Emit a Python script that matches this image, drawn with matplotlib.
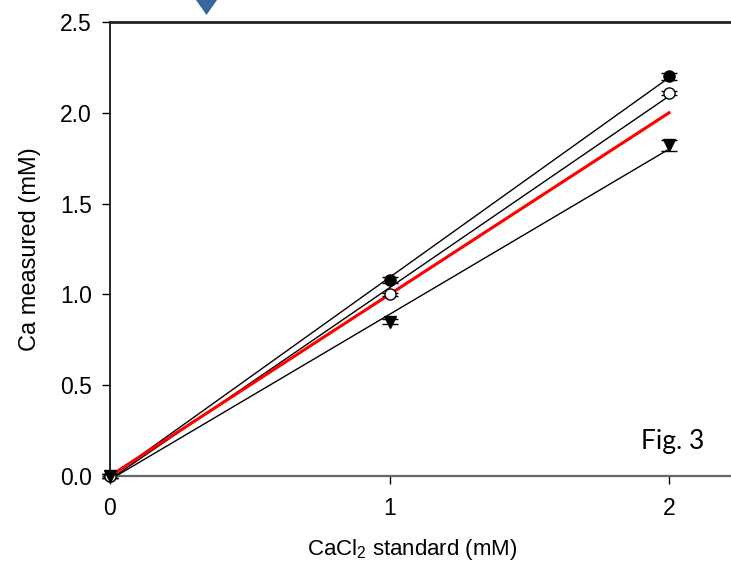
import numpy as np
import matplotlib
matplotlib.use("Agg")
import matplotlib.pyplot as plt
from matplotlib.patches import Polygon

plt.rcParams['font.family'] = ['Liberation Sans', 'DejaVu Sans']
plt.rcParams['mathtext.fontset'] = 'custom'
plt.rcParams['mathtext.rm'] = 'Liberation Sans'
plt.rcParams['mathtext.it'] = 'Liberation Sans'

# Data
x = [0, 1, 2]
filled_y = [0.0, 1.08, 2.20]
filled_err = [0.01, 0.015, 0.02]
open_y = [0.0, 1.00, 2.11]
open_err = [0.01, 0.01, 0.012]
tri_y = [0.0, 0.85, 1.82]
tri_err = [0.01, 0.012, 0.03]
ident_x = [0, 2]
ident_y = [0, 2]
xticks = [0, 1, 2]
yticks = [0.0, 0.5, 1.0, 1.5, 2.0, 2.5]

W, H = 731, 568
fig = plt.figure(figsize=(W/100, H/100), dpi=100)
x0_px, xunit = 110, 279.5
xmax = 2.4
left = x0_px / W
width = xmax * xunit / W
bottom = (H - 476) / H
height = (476 - 22) / H
ax = fig.add_axes([left, bottom, width, height])
ax.set_xlim(0, xmax)
ax.set_ylim(0, 2.5)

xs = np.array(x, dtype=float)
for ys in (filled_y, open_y, tri_y):
    k, b = np.polyfit(xs, ys, 1)
    ax.plot(xs, k * xs + b, color='black', lw=1.0, zorder=2)
ax.plot(ident_x, ident_y, color='#ff0000', lw=2.2, zorder=3)

ax.errorbar(x, filled_y, yerr=filled_err, fmt='o', color='black', ms=8,
            capsize=6, elinewidth=1, capthick=1, zorder=4, clip_on=False)
ax.errorbar(x, open_y, yerr=open_err, fmt='o', mfc='white', mec='black', ecolor='black',
            ms=8, mew=1, capsize=6, elinewidth=1, capthick=1, zorder=4, clip_on=False)
ax.errorbar(x, tri_y, yerr=tri_err, fmt='v', color='black', ms=9,
            capsize=6, elinewidth=1, capthick=1, zorder=4, clip_on=False)

ax.set_xticks(xticks)
ax.set_xticklabels([str(t) for t in xticks])
ax.set_yticks(yticks)
ax.set_yticklabels([f"{t:.1f}" for t in yticks])
ax.tick_params(direction='out', length=6, width=1, labelsize=16.5)
ax.tick_params(axis='y', pad=7)
ax.tick_params(axis='x', pad=9)

ax.spines['left'].set_color('black')
ax.spines['left'].set_linewidth(1.2)
ax.spines['top'].set_color('#222222')
ax.spines['top'].set_linewidth(2.0)
ax.spines['bottom'].set_color('#666666')
ax.spines['bottom'].set_linewidth(1.6)
ax.spines['right'].set_visible(False)

fig.text(30 / W, 1 - 249 / H, 'Ca measured (mM)', fontsize=17, rotation=90,
         ha='center', va='center')
fig.text(412 / W, 1 - 550 / H, 'CaCl$_{2}$ standard (mM)', fontsize=16,
         ha='center', va='center')

fig.text(673 / W, 1 - 441 / H, 'Fig. 3', fontsize=19, family=['Lato', 'DejaVu Sans'],
         ha='center', va='center')

tri = Polygon([(196 / W, 1.0), (217 / W, 1.0), (206.5 / W, 1 - 15 / H)],
              closed=True, transform=fig.transFigure, facecolor='#3a65a0',
              edgecolor='none')
fig.patches.append(tri)

fig.savefig('out.png', dpi=100)
